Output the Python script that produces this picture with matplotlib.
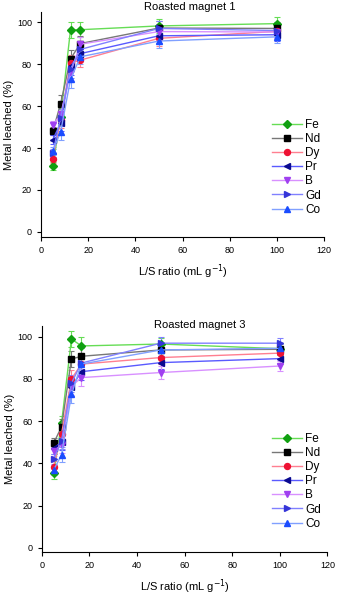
import matplotlib
matplotlib.use("Agg")
import matplotlib.pyplot as plt

plt.rcParams['font.family'] = ['Liberation Sans', 'DejaVu Sans']

# L/S ratios (mL/g)
ls_ratio = [5, 8.33, 12.5, 16.67, 50, 100]

metals = ['Fe', 'Nd', 'Dy', 'Pr', 'B', 'Gd', 'Co']

# roasted magnet 1 (% leached)
m1_fe = [31.5, 55.0, 96.3, 96.4, 98.2, 99.3]
m1_nd = [48.0, 61.2, 82.5, 89.8, 97.2, 97.0]
m1_dy = [35.0, 53.5, 80.5, 81.9, 92.3, 95.6]
m1_pr = [44.0, 52.0, 79.0, 85.0, 93.5, 94.0]
m1_b = [51.0, 56.0, 76.0, 89.5, 95.5, 95.3]
m1_gd = [37.6, 54.5, 77.5, 87.0, 97.0, 96.0]
m1_co = [38.5, 47.8, 72.7, 83.5, 91.0, 93.0]
m1_err = [2.0, 4.0, 4.0, 3.5, 3.5, 3.0]

# roasted magnet 3 (% leached)
m3_fe = [35.3, 59.0, 98.9, 95.6, 96.5, 94.3]
m3_nd = [49.5, 57.3, 89.4, 90.7, 93.7, 94.0]
m3_dy = [38.4, 54.0, 80.0, 87.0, 90.1, 92.2]
m3_pr = [47.1, 50.0, 76.0, 83.4, 87.7, 89.6]
m3_b = [46.0, 48.5, 76.5, 80.6, 83.0, 86.1]
m3_gd = [42.0, 50.5, 78.0, 87.5, 96.9, 96.9]
m3_co = [36.8, 44.0, 72.7, 87.0, 93.7, 94.5]
m3_err = [2.5, 3.5, 4.0, 4.0, 3.0, 2.5]

markers = ['D', 's', 'o', '<', 'v', '>', '^']
mcolors = ['#10a010', '#000000', '#ee1133', '#0a0a90', '#a040f0', '#3535d8', '#1a4cff']
lcolors = ['#66dd55', '#777777', '#ff7f90', '#5a5aff', '#d890ff', '#8080ff', '#80a0ff']


def panel(ax, series, err, title, tx, ty, leg_y):
    for i in range(len(metals)):
        ax.errorbar(ls_ratio, series[i], yerr=err, color=lcolors[i], lw=1.0,
                    marker=markers[i], ms=4.3, mfc=mcolors[i], mec=mcolors[i],
                    ecolor=lcolors[i], elinewidth=0.8, capsize=2, capthick=0.8,
                    label=metals[i])
    ax.set_xlim(0, 120)
    ax.set_xticks(range(0, 121, 20))
    ax.set_yticks(range(0, 101, 20))
    ax.spines['top'].set_visible(False)
    ax.spines['right'].set_visible(False)
    ax.tick_params(labelsize=6.5, direction='out', length=3, width=0.8)
    ax.set_xlabel('L/S ratio (mL g$^{-1}$)', fontsize=8, labelpad=5)
    ax.set_ylabel('Metal leached (%)', fontsize=8, labelpad=2)
    ax.figure.text(tx, ty, title, fontsize=8, ha='center', va='center')
    h, l = ax.get_legend_handles_labels()
    h = [x[0] for x in h]
    ax.legend(h, l, loc='upper left', bbox_to_anchor=(0.79, leg_y),
              bbox_transform=ax.figure.transFigure, frameon=False,
              fontsize=8.5, handlelength=2.5, handletextpad=0.3,
              labelspacing=0.18, borderpad=0)


fig = plt.figure(figsize=(3.37, 5.95), dpi=100)
ax1 = fig.add_axes([0.1217, 0.6017, 0.840, 0.378])
ax1.set_ylim(-2.4, 104.8)
panel(ax1, [m1_fe, m1_nd, m1_dy, m1_pr, m1_b, m1_gd, m1_co], m1_err,
      'Roasted magnet 1', 190 / 337, 1 - 6.5 / 595, 1 - 113 / 595)

ax2 = fig.add_axes([0.1237, 0.0723, 0.848, 0.380])
ax2.set_ylim(-2.0, 105.1)
panel(ax2, [m3_fe, m3_nd, m3_dy, m3_pr, m3_b, m3_gd, m3_co], m3_err,
      'Roasted magnet 3', 200 / 337, 1 - 325 / 595, 1 - 427 / 595)

fig.savefig('out.png', dpi=100)
